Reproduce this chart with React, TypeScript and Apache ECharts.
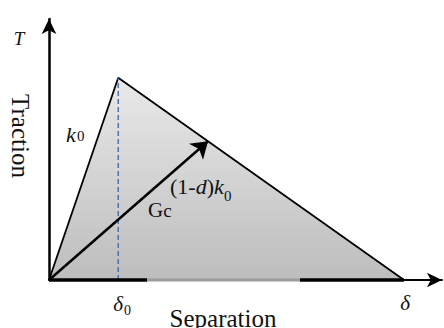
import React, { useEffect, useRef } from "react";
import * as echarts from "echarts";

// Cohesive-law (bilinear traction–separation) values, in normalised units
const separation = [0, 0.195, 1]; // 0, δ0, δ
const traction = [0, 1, 0]; // 0, T max, 0
const delta0 = 0.195;
const tMax = 1;
const gcArrowTip = [0.448, 0.686];
const axisMaxX = 1.107;
const axisMaxY = 1.29;
const baseBlackSegments = [
  [0, 0.276],
  [0.707, 1],
];
const baseGraySegment = [0.276, 0.707];

const FONT = "'Liberation Serif', 'Times New Roman', serif";

export default function App() {
  const ref = useRef<HTMLDivElement>(null);

  useEffect(() => {
    if (!ref.current) return;
    const chart = echarts.init(ref.current, undefined, { renderer: "svg" });

    const trianglePts = separation.map((x, i) => [x, traction[i]]);

    const seg = (a: number[], color: string, width: number, name: string) => ({
      type: "line",
      name,
      data: [
        [a[0], 0],
        [a[1], 0],
      ],
      symbol: "none",
      clip: false,
      silent: true,
      z: 4,
      lineStyle: { color, width },
    });

    const txt = (
      text: string,
      x: number,
      y: number,
      size: number,
      opts: any = {}
    ) => ({
      type: "text",
      x,
      y,
      rotation: opts.rotation || 0,
      style: {
        text,
        fontFamily: FONT,
        fontSize: size,
        fontStyle: opts.italic ? "italic" : "normal",
        fill: "#111",
        textAlign: opts.align || "left",
        textVerticalAlign: "middle",
        rich: opts.rich,
      },
      z: 10,
    });

    chart.setOption({
      animation: false,
      grid: { left: 49, right: 2, top: 19, bottom: 48 },
      xAxis: {
        type: "value",
        min: 0,
        max: axisMaxX,
        axisLine: {
          show: true,
          lineStyle: { color: "#000", width: 2 },
          symbol: ["none", "arrow"],
          symbolSize: [11, 15],
        },
        axisTick: { show: false },
        axisLabel: { show: false },
        splitLine: { show: false },
      },
      yAxis: {
        type: "value",
        min: 0,
        max: axisMaxY,
        axisLine: {
          show: true,
          lineStyle: { color: "#000", width: 2.5 },
          symbol: ["none", "arrow"],
          symbolSize: [11, 15],
        },
        axisTick: { show: false },
        axisLabel: { show: false },
        splitLine: { show: false },
      },
      series: [
        {
          type: "line",
          name: "law",
          data: trianglePts,
          symbol: "none",
          clip: false,
          z: 2,
          lineStyle: { color: "#000", width: 1.8 },
          areaStyle: {
            opacity: 1,
            color: new echarts.graphic.LinearGradient(0, 0, 0, 1, [
              { offset: 0, color: "#e9e9e9" },
              { offset: 1, color: "#bdbdbd" },
            ]),
          },
        },
        {
          type: "line",
          name: "delta0",
          data: [
            [delta0, 0],
            [delta0, tMax],
          ],
          symbol: "none",
          z: 3,
          lineStyle: { color: "#3f6db4", width: 1.4, type: [5, 3] },
        },
        seg(baseGraySegment, "#9c9c9c", 3, "g"),
        ...baseBlackSegments.map((s, i) => seg(s, "#000", 3.5, "b" + i)),
        {
          type: "lines",
          coordinateSystem: "cartesian2d",
          z: 5,
          symbol: ["none", "arrow"],
          symbolSize: [10, 16],
          lineStyle: { color: "#000", width: 2.5, opacity: 1 },
          data: [{ coords: [[0, 0], gcArrowTip] }],
        },
      ],
      graphic: [
        txt("T", 19, 38, 19, { italic: true, align: "center" }),
        txt("Traction", 20, 136, 25, { rotation: -Math.PI / 2, align: "center" }),
        txt("k", 66, 134, 22, { italic: true }),
        txt("0", 77, 136, 15),
        txt("{n|(1-}{i|d}{n|)}{i|k}", 170, 186, 22, {
          rich: {
            n: { fontFamily: FONT, fontSize: 22, fill: "#111" },
            i: { fontFamily: FONT, fontSize: 22, fontStyle: "italic", fill: "#111" },
          },
        }),
        txt("0", 224, 196, 15),
        txt("{g|G}{c|c}", 148, 210, 21, {
          rich: {
            g: { fontFamily: FONT, fontSize: 21, fill: "#111" },
            c: { fontFamily: FONT, fontSize: 19, fill: "#111" },
          },
        }),
        txt("δ", 118, 304, 21, { italic: true, align: "center" }),
        txt("0", 124, 310, 14),
        txt("δ", 405, 303, 21, { italic: true, align: "center" }),
        txt("Separation", 223, 318, 25, { align: "center" }),
      ],
    });

    return () => chart.dispose();
  }, []);

  return (
    <div
      ref={ref}
      style={{
        position: "fixed",
        left: 0,
        top: 0,
        width: 444,
        height: 328,
        background: "#fff",
      }}
    />
  );
}
